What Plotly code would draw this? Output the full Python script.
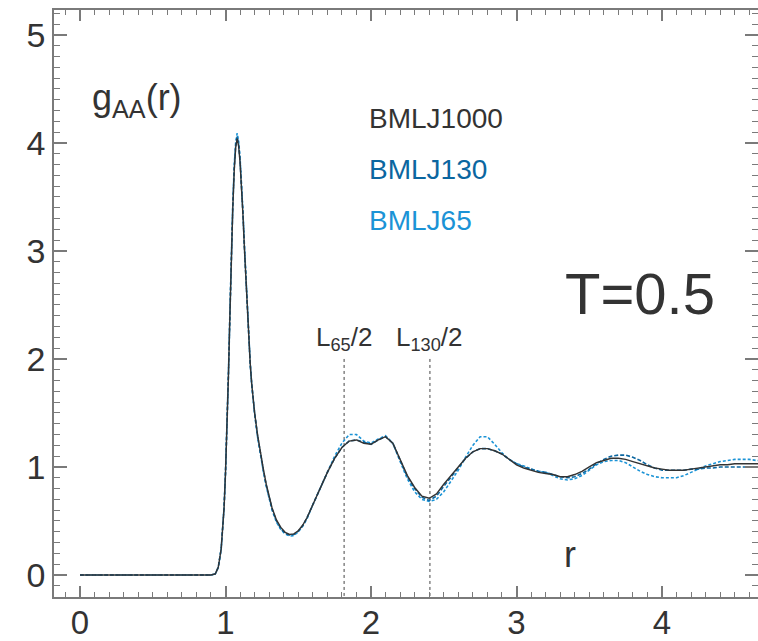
import plotly.graph_objects as go

r = [0.0, 0.90, 0.93, 0.95, 0.97, 0.99, 1.00, 1.01, 1.02, 1.03, 1.04, 1.05, 1.06, 1.07, 1.08,
     1.09, 1.10, 1.11, 1.12, 1.13, 1.14, 1.15, 1.16, 1.17, 1.18, 1.19, 1.20, 1.22, 1.24,
     1.26, 1.28, 1.30, 1.32, 1.35,
     1.38, 1.41, 1.44, 1.47, 1.50, 1.53, 1.56, 1.60, 1.65, 1.70, 1.75, 1.80, 1.85, 1.90,
     1.95, 2.00, 2.05, 2.10, 2.15, 2.20, 2.25, 2.30, 2.35, 2.40, 2.45, 2.50, 2.55, 2.60,
     2.65, 2.70, 2.75, 2.80, 2.85, 2.90, 2.95, 3.00, 3.05, 3.10, 3.15, 3.20, 3.25, 3.30,
     3.35, 3.40, 3.45, 3.50, 3.55, 3.60, 3.65, 3.70, 3.75, 3.80, 3.85, 3.90, 3.95, 4.00,
     4.05, 4.10, 4.15, 4.20, 4.25, 4.30, 4.35, 4.40, 4.45, 4.50, 4.55, 4.60, 4.65, 4.70]

g_1000 = [0.0, 0.0, 0.01, 0.07, 0.24, 0.62, 0.95, 1.35, 1.85, 2.40, 2.95, 3.40, 3.75, 3.96, 4.04,
          3.97, 3.82, 3.60, 3.33, 3.02, 2.72, 2.43, 2.17, 1.95, 1.77, 1.62, 1.50, 1.30, 1.13,
          0.98, 0.84, 0.72, 0.62, 0.51,
          0.44, 0.395, 0.375, 0.38, 0.41, 0.46, 0.53, 0.65, 0.80, 0.95, 1.08, 1.18, 1.24, 1.25,
          1.22, 1.21, 1.25, 1.28, 1.22, 1.07, 0.92, 0.81, 0.73, 0.71, 0.75, 0.84, 0.92, 1.00,
          1.08, 1.14, 1.17, 1.17, 1.15, 1.12, 1.07, 1.02, 0.99, 0.97, 0.95, 0.94, 0.93, 0.91,
          0.91, 0.93, 0.96, 1.00, 1.04, 1.06, 1.08, 1.08, 1.07, 1.05, 1.03, 1.01, 0.99, 0.98,
          0.97, 0.97, 0.97, 0.98, 0.99, 1.00, 1.01, 1.02, 1.02, 1.03, 1.03, 1.03, 1.03, 1.03]

g_130 = [0.0, 0.0, 0.01, 0.07, 0.24, 0.62, 0.95, 1.35, 1.85, 2.40, 2.96, 3.42, 3.77, 3.98, 4.06,
         3.99, 3.84, 3.62, 3.34, 3.03, 2.73, 2.44, 2.17, 1.95, 1.77, 1.62, 1.50, 1.29, 1.12,
         0.97, 0.83, 0.71, 0.61, 0.50,
         0.43, 0.385, 0.37, 0.375, 0.405, 0.455, 0.53, 0.65, 0.80, 0.95, 1.08, 1.18, 1.24, 1.25,
         1.23, 1.21, 1.25, 1.28, 1.22, 1.06, 0.91, 0.80, 0.72, 0.69, 0.73, 0.82, 0.91, 1.00,
         1.08, 1.14, 1.17, 1.17, 1.15, 1.12, 1.07, 1.03, 1.00, 0.98, 0.96, 0.95, 0.93, 0.91,
         0.90, 0.91, 0.94, 0.98, 1.03, 1.07, 1.10, 1.11, 1.11, 1.09, 1.06, 1.02, 0.99, 0.97,
         0.97, 0.97, 0.97, 0.98, 0.98, 0.99, 0.99, 1.00, 1.00, 1.00, 1.00, 1.00, 1.00, 1.00]

g_65 = [0.0, 0.0, 0.01, 0.07, 0.24, 0.63, 0.96, 1.36, 1.87, 2.42, 2.98, 3.44, 3.80, 4.01, 4.09,
        4.02, 3.86, 3.64, 3.36, 3.05, 2.74, 2.45, 2.18, 1.95, 1.76, 1.61, 1.49, 1.28, 1.11,
        0.96, 0.82, 0.70, 0.60, 0.49,
        0.42, 0.38, 0.36, 0.365, 0.40, 0.45, 0.52, 0.65, 0.80, 0.96, 1.10, 1.22, 1.30, 1.30,
        1.24, 1.22, 1.26, 1.29, 1.22, 1.05, 0.89, 0.77, 0.70, 0.68, 0.70, 0.77, 0.87, 0.97,
        1.09, 1.20, 1.28, 1.28, 1.21, 1.13, 1.07, 1.03, 1.01, 0.98, 0.96, 0.95, 0.92, 0.89,
        0.88, 0.89, 0.92, 0.97, 1.02, 1.05, 1.06, 1.06, 1.04, 1.00, 0.96, 0.93, 0.91, 0.90,
        0.90, 0.90, 0.92, 0.95, 0.98, 1.01, 1.03, 1.05, 1.06, 1.07, 1.07, 1.07, 1.06, 1.06]

series_names = ["BMLJ1000", "BMLJ130", "BMLJ65"]
half_box = [1.815, 2.405]
half_box_labels = ["L<sub>65</sub>/2", "L<sub>130</sub>/2"]
x_ticks = [0, 1, 2, 3, 4]
y_ticks = [0, 1, 2, 3, 4, 5]

C_BLACK = "#333333"
C_DARK = "#0b66a0"
C_LIGHT = "#1b93d6"
AX = "#7a7a7a"
FONT = "Liberation Sans, Arial, sans-serif"

W, H = 758, 641
ML, MR, MT, MB = 54, 0, 10, 44
PW, PH = W - ML - MR, H - MT - MB

fig = go.Figure()

# half box length markers
for xv in half_box:
    fig.add_trace(go.Scatter(x=[xv, xv], y=[2.0, -0.3], mode="lines",
                             line=dict(color="#444444", width=1, dash="3px,3px"),
                             hoverinfo="skip", showlegend=False))

fig.add_trace(go.Scatter(x=r, y=g_65, mode="lines", name=series_names[2],
                         line=dict(color=C_LIGHT, width=1.6, dash="3px,2px")))
fig.add_trace(go.Scatter(x=r, y=g_130, mode="lines", name=series_names[1],
                         line=dict(color=C_DARK, width=1.6, dash="4px,2px")))
fig.add_trace(go.Scatter(x=r, y=g_1000, mode="lines", name=series_names[0],
                         line=dict(color=C_BLACK, width=1.4)))

axis_common = dict(showline=True, linecolor=AX, linewidth=1.5, mirror="allticks",
                   ticks="inside", tickcolor=AX, tickwidth=1.5, showgrid=False,
                   zeroline=False, automargin=False)

fig.update_xaxes(range=[-0.179, 4.660], tickvals=x_ticks, ticklen=11,
                 ticklabelstandoff=-4,
                 tickfont=dict(family=FONT, size=33, color=C_BLACK),
                 minor=dict(dtick=0.1, tick0=0, ticks="inside", ticklen=5, tickcolor=AX,
                            tickwidth=1.2, showgrid=False),
                 **axis_common)
fig.update_yaxes(range=[-0.204, 5.231], tickvals=y_ticks, ticklen=13,
                 tickfont=dict(family=FONT, size=34, color=C_BLACK),
                 minor=dict(dtick=0.1, tick0=0, ticks="inside", ticklen=6, tickcolor=AX,
                            tickwidth=1.2, showgrid=False),
                 **axis_common)


def px2paper(px, py):
    return (px - ML) / PW, 1 - (py - MT) / PH


ann = [
    dict(x=90, y=100, text="g<sub>AA</sub>(r)", size=36, color=C_BLACK, xanchor="left"),
    dict(x=367, y=118, text=series_names[0], size=28, color=C_BLACK, xanchor="left"),
    dict(x=367, y=169, text=series_names[1], size=28, color=C_DARK, xanchor="left"),
    dict(x=367, y=221, text=series_names[2], size=28, color=C_LIGHT, xanchor="left"),
    dict(x=640, y=294, text="T=0.5", size=58, color=C_BLACK, xanchor="center"),
    dict(x=570, y=554, text="r", size=36, color=C_BLACK, xanchor="center"),
]
for a in ann:
    px_, py_ = px2paper(a["x"], a["y"])
    fig.add_annotation(x=px_, y=py_, xref="paper", yref="paper",
                       text=a["text"], showarrow=False, xanchor=a["xanchor"], yanchor="middle",
                       font=dict(family=FONT, size=a["size"], color=a["color"]))

for xv, lab in zip(half_box, half_box_labels):
    fig.add_annotation(x=xv, y=2.0, xref="x", yref="y", yanchor="bottom", yshift=2,
                       text=lab, showarrow=False,
                       font=dict(family=FONT, size=26, color=C_BLACK))

fig.update_layout(width=W, height=H, margin=dict(l=ML, r=MR, t=MT, b=MB),
                  paper_bgcolor="white", plot_bgcolor="white", showlegend=False)

fig.write_html("out.html", config={"displayModeBar": False},
               post_script="document.body.style.margin='0';document.body.style.overflow='hidden';")
